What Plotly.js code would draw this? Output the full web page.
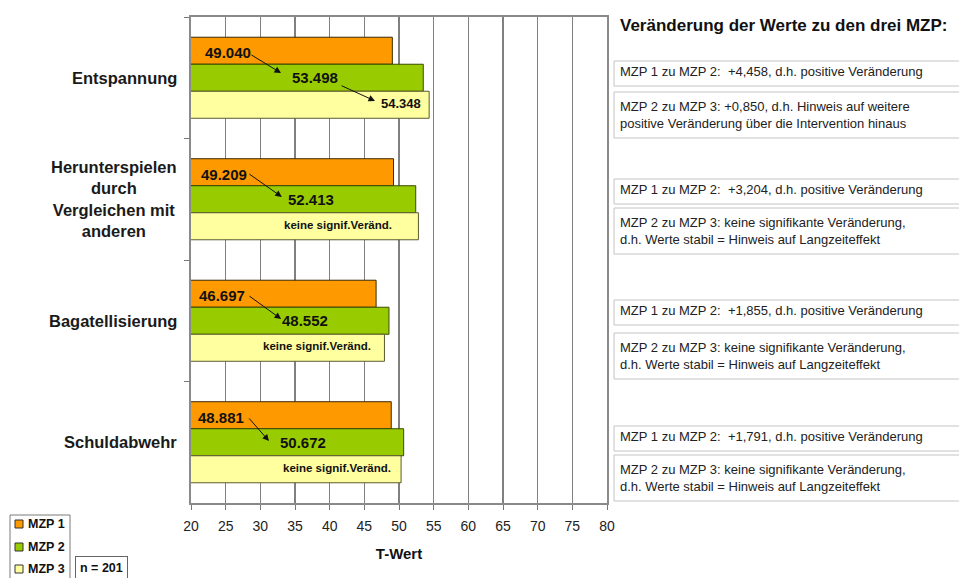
<!DOCTYPE html>
<html><head><meta charset="utf-8">
<script src="https://cdn.plot.ly/plotly-3.0.1.min.js"></script>
<style>html,body{margin:0;padding:0;background:#fff;}#chart{width:959px;height:578px;}</style>
</head><body><div id="chart"></div>
<script>
// ---- data ----
const categories = ['Entspannung', 'Herunterspielen<br>durch<br>Vergleichen mit<br>anderen', 'Bagatellisierung', 'Schuldabwehr'];
const seriesNames = ['MZP 1', 'MZP 2', 'MZP 3'];
const mzp1 = [49.040, 49.209, 46.697, 48.881];
const mzp2 = [53.498, 52.413, 48.552, 50.672];
const mzp3 = [54.348, 52.8, 47.9, 50.3];
const mzp3Labels = ['54.348', 'keine signif.Veränd.', 'keine signif.Veränd.', 'keine signif.Veränd.'];
const xTickVals = [20, 25, 30, 35, 40, 45, 50, 55, 60, 65, 70, 75, 80];
const change12 = ['+4,458', '+3,204', '+1,855', '+1,791'];
const change23 = [
  '+0,850, d.h. Hinweis auf weitere<br>positive Veränderung über die Intervention hinaus',
  'keine signifikante Veränderung,<br>d.h. Werte stabil = Hinweis auf Langzeiteffekt',
  'keine signifikante Veränderung,<br>d.h. Werte stabil = Hinweis auf Langzeiteffekt',
  'keine signifikante Veränderung,<br>d.h. Werte stabil = Hinweis auf Langzeiteffekt'
];
const panelTitle = 'Veränderung der Werte zu den drei MZP:';
const xTitle = 'T-Wert';
const nLabel = 'n = 201';

// ---- styling / layout helpers ----
const colors = ['#FF9900', '#99CC00', '#FFFFA0'];
const outline = ['#3b2a00', '#3a4a00', '#5a5a30'];
const FONT = 'Liberation Sans, Arial, sans-serif';
const L = 191, R = 607, T = 17, B = 503;
const px = x => (x - L) / (R - L);
const py = y => (B - y) / (B - T);

const traces = [mzp1, mzp2, mzp3].map((vals, i) => ({
  type: 'bar', orientation: 'h', name: seriesNames[i],
  y: categories, x: vals,
  marker: {color: colors[i], line: {color: outline[i], width: 1}},
  hoverinfo: 'x+name', showlegend: false
}));

const annotations = [];
const shapes = [];
// label positions inside bars (x in data units, y offset within group)
const labelX = [
  [25.3, 37.9, 50.3],
  [24.8, 37.3, 41.2],
  [24.5, 36.4, 38.2],
  [24.3, 36.15, 41.05]
];
const yOff = [-0.205, 0.0, 0.21];
categories.forEach((c, k) => {
  const texts = [mzp1[k].toFixed(3), mzp2[k].toFixed(3), mzp3Labels[k]];
  texts.forEach((t, i) => {
    let size = 15;
    if (i === 2) size = (t.indexOf('keine') === 0) ? 11.5 : 13;
    annotations.push({x: labelX[k][i], y: k + yOff[i], xref: 'x', yref: 'y', text: '<b>' + t + '</b>',
      showarrow: false, font: {family: FONT, size: size, color: '#111'}});
  });
  annotations.push({x: px(179), y: k, xref: 'paper', yref: 'y', xanchor: 'right', align: 'center',
    text: '<b>' + c + '</b>', showarrow: false, font: {family: FONT, size: 16.5, color: '#1a1a1a'}});
});
// arrows between labels: [tailX, tailY, headX, headY]
const arrows = [
  [28.5, -0.195, 32.98, -0.039],
  [41.5, 0.06, 46.54, 0.191],
  [28.2, 0.784, 33.1, 0.981],
  [28.2, 1.788, 33.0, 1.986],
  [28.2, 2.792, 31.25, 2.99]
];
arrows.forEach(a => annotations.push({x: a[2], y: a[3], ax: a[0], ay: a[1], xref: 'x', yref: 'y', axref: 'x', ayref: 'y',
  text: '', showarrow: true, arrowhead: 2, arrowsize: 1.3, arrowwidth: 1, arrowcolor: '#111', standoff: 0, startstandoff: 0}));

// right panel
annotations.push({x: px(618), y: py(26), xref: 'paper', yref: 'paper', xanchor: 'left', yanchor: 'middle',
  text: '<b>' + panelTitle + '</b>', showarrow: false, font: {family: FONT, size: 17, color: '#111'}});
const box1Top = [61, 179, 300, 426];
const box2Top = [92, 208, 333, 455];
for (let k = 0; k < 4; k++) {
  shapes.push({type: 'rect', xref: 'paper', yref: 'paper', x0: px(614), x1: px(975), y0: py(box1Top[k]), y1: py(box1Top[k] + 25),
    line: {color: '#c4c4c4', width: 1}, fillcolor: '#fff'});
  shapes.push({type: 'rect', xref: 'paper', yref: 'paper', x0: px(614), x1: px(975), y0: py(box2Top[k]), y1: py(box2Top[k] + 46),
    line: {color: '#c4c4c4', width: 1}, fillcolor: '#fff'});
  annotations.push({x: px(618), y: py(box1Top[k] + 10), xref: 'paper', yref: 'paper', xanchor: 'left', yanchor: 'middle', align: 'left',
    text: 'MZP 1 zu MZP 2:\u00a0 ' + change12[k] + ', d.h. positive Veränderung', showarrow: false, font: {family: FONT, size: 13, color: '#222'}});
  annotations.push({x: px(618), y: py(box2Top[k] + 23), xref: 'paper', yref: 'paper', xanchor: 'left', yanchor: 'middle', align: 'left',
    text: 'MZP 2 zu MZP 3: ' + change23[k], showarrow: false, font: {family: FONT, size: 13, color: '#222'}});
}
// legend (drawn as a key box) and n label
shapes.push({type: 'rect', xref: 'paper', yref: 'paper', x0: px(10), x1: px(70), y0: py(590), y1: py(515),
  line: {color: '#7a7a7a', width: 1}, fillcolor: '#fff'});
const legendY = [524, 547, 569];
seriesNames.forEach((n, i) => {
  shapes.push({type: 'rect', xref: 'paper', yref: 'paper', x0: px(15), x1: px(23), y0: py(legendY[i] + 4), y1: py(legendY[i] - 4),
    line: {color: '#333', width: 1}, fillcolor: colors[i]});
  annotations.push({x: px(26), y: py(legendY[i]), xref: 'paper', yref: 'paper', xanchor: 'left', yanchor: 'middle',
    text: '<b>' + n + '</b>', showarrow: false, font: {family: FONT, size: 12.5, color: '#111'}});
});
annotations.push({x: px(75), y: py(556), xref: 'paper', yref: 'paper', xanchor: 'left', yanchor: 'top',
  text: '<b>' + nLabel + '</b>', showarrow: false, bordercolor: '#666', borderwidth: 1, borderpad: 4, bgcolor: '#fff',
  font: {family: FONT, size: 12.5, color: '#111'}});

const layout = {
  width: 959, height: 578,
  margin: {l: L, r: 959 - R, t: T, b: 578 - B, autoexpand: false},
  paper_bgcolor: '#fff', plot_bgcolor: '#fff',
  barmode: 'group', bargap: 0.333, bargroupgap: 0,
  showlegend: false,
  xaxis: {range: [20, 80], tickvals: xTickVals, ticks: 'outside', ticklen: 5, tickcolor: '#777', ticklabelstandoff: 4,
    showgrid: true, gridcolor: '#808080', gridwidth: 1.3, showline: true, linecolor: '#8a8a8a', linewidth: 2, mirror: true,
    zeroline: false, tickfont: {family: FONT, size: 14, color: '#222'},
    title: {text: '<b>' + xTitle + '</b>', font: {family: FONT, size: 15, color: '#111'}, standoff: 16}},
  yaxis: {type: 'category', autorange: 'reversed', showticklabels: false, ticks: 'outside', ticklen: 5, tickcolor: '#777',
    tickson: 'boundaries', showgrid: false, showline: true, linecolor: '#8a8a8a', linewidth: 2, mirror: true, zeroline: false},
  annotations: annotations, shapes: shapes,
  font: {family: FONT}
};
Plotly.newPlot('chart', traces, layout, {displayModeBar: false, staticPlot: true});
</script></body></html>
